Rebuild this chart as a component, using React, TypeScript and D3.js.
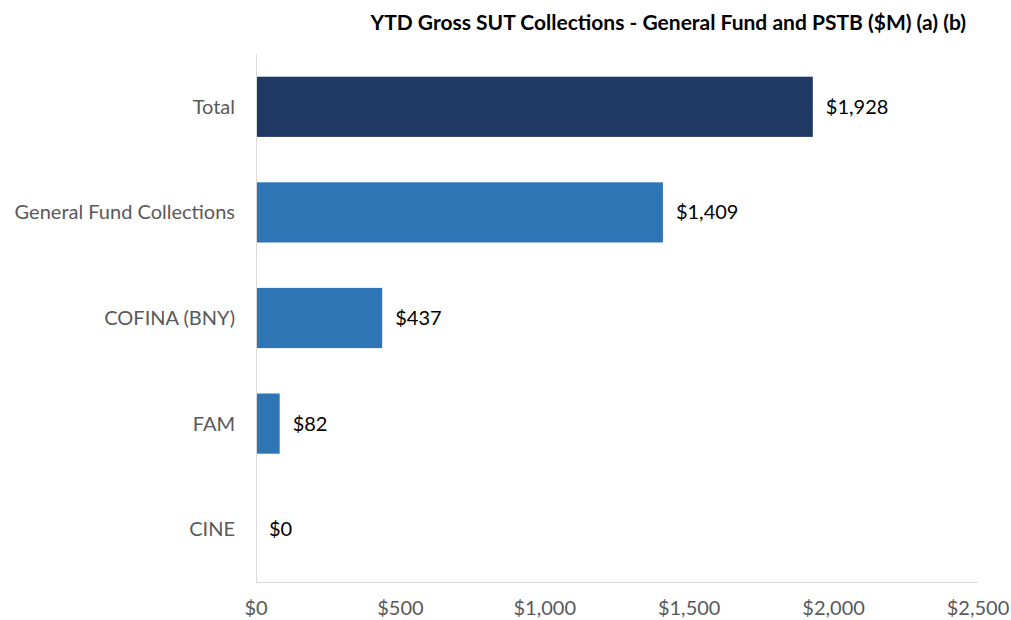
import React from "react";
import * as d3 from "d3";

const categories = ["Total", "General Fund Collections", "COFINA (BNY)", "FAM", "CINE"];
const values = [1928, 1409, 437, 82, 0];
const xTicks = [0, 500, 1000, 1500, 2000, 2500];
const title = "YTD Gross SUT Collections - General Fund and PSTB ($M) (a) (b)";

const W = 1011;
const H = 620;
const FONT = "Lato, 'Open Sans', sans-serif";

export default function App() {
  const x = d3.scaleLinear().domain([0, 2500]).range([256, 978]);
  const y = d3.scaleBand<string>().domain(categories).range([54, 582]).paddingInner(0.43).paddingOuter(0.215);
  const fmt = (v: number) => "$" + d3.format(",")(v);
  return (
    <svg width={W} height={H} style={{ position: "absolute", left: 0, top: 0, background: "#fff" }} fontFamily={FONT}>
      <text x={966} y={30} textAnchor="end" fontWeight="bold" fontSize={21} fill="#000">{title}</text>
      <line x1={x(0)} x2={x(2500)} y1={582.5} y2={582.5} stroke="#d9d9d9" strokeWidth={1} />
      {categories.map((c, i) => (
        <g key={c}>
          <rect x={x(0)} y={y(c)} width={x(values[i]) - x(0)} height={y.bandwidth()} fill={i === 0 ? "#203864" : "#2e75b6"} />
          <text x={235} y={(y(c) as number) + y.bandwidth() / 2} dy="0.35em" textAnchor="end" fontSize={20} fill="#595959">{c}</text>
          <text x={x(values[i]) + 13} y={(y(c) as number) + y.bandwidth() / 2} dy="0.35em" textAnchor="start" fontSize={20} fill="#000">{fmt(values[i])}</text>
        </g>
      ))}
      <line x1={256.5} x2={256.5} y1={54} y2={582} stroke="#d9d9d9" strokeWidth={1} />
      {xTicks.map((t) => (
        <text key={t} x={x(t)} y={608} dy="0.35em" textAnchor="middle" fontSize={20} fill="#595959">{fmt(t)}</text>
      ))}
    </svg>
  );
}
